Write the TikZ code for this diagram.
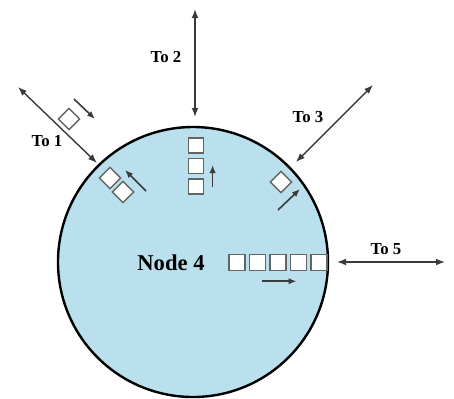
\documentclass[tikz,border=0pt]{standalone}
\usepackage{fontspec}
\setmainfont{Liberation Serif}
\usepackage{xcolor}
\usepackage{tikz}
\usetikzlibrary{arrows.meta, positioning, calc}
\definecolor{NodeBlue}{RGB}{186, 224, 237}
\definecolor{ArrowGray}{RGB}{58, 58, 58}
\definecolor{BoxGray}{RGB}{100, 100, 100}

\begin{document}
\begin{tikzpicture}[
    x=0.5pt, y=-0.5pt,
    link/.style={draw=ArrowGray, line width=0.7pt, {Latex[length=4.5pt,width=3.4pt]}-{Latex[length=4.5pt,width=3.4pt]}},
    flow/.style={draw=ArrowGray, line width=0.8pt, -{Latex[length=4pt,width=3.2pt]}},
    pkt/.style={draw=BoxGray, fill=white, line width=0.75pt, minimum size=8pt, inner sep=0pt},
    tolabel/.style={font=\bfseries\fontsize{8.4}{10}\selectfont, inner sep=0pt}
  ]
    \useasboundingbox (0,0) rectangle (454,398);

    % the node
    \node[circle, draw=black, fill=NodeBlue, line width=1.2pt, minimum size=135pt, inner sep=0pt] (node4) at (193,262) {};
    \node[font=\bfseries\fontsize{11.3}{13}\selectfont, inner sep=0pt] (name4) at (171,263) {Node 4};

    % links to the neighbours
    \coordinate (far1) at (18,87);   \coordinate (near1) at (97,163);
    \coordinate (far2) at (195,9);   \coordinate (near2) at (195,117);
    \coordinate (far3) at (373,85);  \coordinate (near3) at (296,162);
    \coordinate (far5) at (445,262); \coordinate (near5) at (337,262);
    \draw[link] (far1) -- (near1);
    \draw[link] (far2) -- (near2);
    \draw[link] (far3) -- (near3);
    \draw[link] (far5) -- (near5);
    \node[tolabel] (lab1) at (47,141) {To 1};
    \node[tolabel] (lab2) at (166,57) {To 2};
    \node[tolabel] (lab3) at (308,117) {To 3};
    \node[tolabel] (lab5) at (386,249) {To 5};

    % queue towards 2
    \node[pkt, minimum size=7.5pt] (q2a) at (196,145.5) {};
    \node[pkt, minimum size=7.5pt, below=2pt of q2a] (q2b) {};
    \node[pkt, minimum size=7.5pt, below=2pt of q2b] (q2c) {};
    \draw[flow] ([xshift=4.2pt]q2c.east) -- ([shift={(4.2pt,0.5pt)}]q2b.east);

    % queue towards 5
    \node[pkt] (q5a) at (237,262.5) {};
    \node[pkt, right=1.5pt of q5a] (q5b) {};
    \node[pkt, right=1.5pt of q5b] (q5c) {};
    \node[pkt, right=1.5pt of q5c] (q5d) {};
    \node[pkt, right=1.5pt of q5d] (q5e) {};
    \draw[flow] ([shift={(2pt,-5pt)}]q5b.south) -- ([shift={(-1pt,-5pt)}]q5d.south);

    % queue towards 3
    \node[pkt, minimum size=7.5pt, rotate=45] (q3) at (281,182) {};
    \draw[flow] ($(q3)+(-3,28)$) -- ($(q3)+(19,7)$);

    % queue towards 1, and a packet on the way in
    \node[pkt, minimum size=7.5pt, rotate=45] (q1a) at (110,178) {};
    \node[pkt, minimum size=7.5pt, rotate=45] (q1b) at (123,192) {};
    \draw[flow] ($(q1b)+(23,-1)$) -- ($(q1a)+(15,-8)$);
    \node[pkt, minimum size=7.5pt, rotate=45] (p1) at (69,119) {};
    \draw[flow] ($(p1)+(5,-20)$) -- ($(p1)+(26,0)$);
  \end{tikzpicture}
\end{document}
